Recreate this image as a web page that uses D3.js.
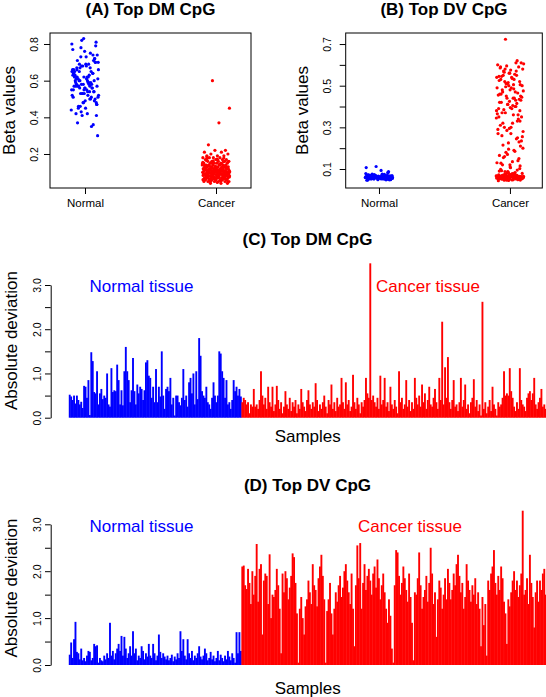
<!DOCTYPE html>
<html><head><meta charset="utf-8">
<script src="https://cdn.jsdelivr.net/npm/d3@7"></script>
<style>
body{margin:0;background:#fff}
svg text{font-family:"Liberation Sans",Arial,Helvetica,sans-serif}
</style>
</head><body>
<svg id="chart" width="546" height="697"></svg>
<script>
// ---------- DATA ----------
const groups = ["Normal", "Cancer"];

// (A) Top DM CpG – beta values
const dmNormalBeta = [
0.58,0.66,0.52,0.71,0.49,0.62,0.55,0.75,0.60,0.47,0.68,0.57,0.64,0.53,0.80,0.59,0.45,0.70,0.56,0.63,
0.51,0.73,0.61,0.42,0.67,0.54,0.58,0.77,0.50,0.65,0.48,0.69,0.60,0.56,0.82,0.44,0.62,0.57,0.72,0.53,
0.66,0.59,0.46,0.74,0.55,0.61,0.36,0.68,0.52,0.63,0.57,0.79,0.49,0.65,0.58,0.43,0.70,0.54,0.62,0.60,
0.83,0.51,0.67,0.56,0.47,0.73,0.59,0.64,0.41,0.55,0.69,0.61,0.50,0.76,0.57,0.65,0.53,0.30,0.62,0.58,
0.71,0.48,0.66,0.54,0.60,0.81,0.45,0.63,0.56,0.68,0.52,0.59,0.37,0.72,0.55,0.64,0.50,0.67,0.57,0.61,
0.42,0.74,0.53,0.65,0.58,0.46,0.70,0.56,0.62,0.35,0.78,0.51,0.60,0.66,0.54,0.48,0.63,0.57,0.69,0.41];
const dmCancerBeta = [
0.60,0.45,0.37,0.25,0.22,0.22,0.21,0.21,0.20,0.20,0.19,0.19,0.19,0.18,0.18,0.18,0.18,0.17,0.17,0.17,
0.17,0.16,0.16,0.16,0.16,0.16,0.15,0.15,0.15,0.15,0.15,0.15,0.14,0.14,0.14,0.14,0.14,0.14,0.14,0.13,
0.13,0.13,0.13,0.13,0.13,0.13,0.13,0.12,0.12,0.12,0.12,0.12,0.12,0.12,0.12,0.11,0.11,0.11,0.11,0.11,
0.11,0.11,0.11,0.11,0.10,0.10,0.10,0.10,0.10,0.10,0.10,0.10,0.10,0.10,0.09,0.09,0.09,0.09,0.09,0.09,
0.09,0.09,0.09,0.09,0.08,0.08,0.08,0.08,0.08,0.08,0.08,0.08,0.08,0.08,0.07,0.07,0.07,0.07,0.07,0.07,
0.07,0.07,0.07,0.06,0.06,0.06,0.06,0.06,0.06,0.06,0.06,0.05,0.05,0.05,0.05,0.05,0.05,0.04,0.04,0.04,
0.172,0.165,0.158,0.151,0.147,0.143,0.139,0.136,0.132,0.128,0.125,0.122,0.118,0.115,0.112,0.108,0.105,0.102,0.098,0.095,
0.092,0.088,0.085,0.082,0.078,0.075,0.072,0.068,0.065,0.062,0.058,0.055,0.052,0.048,0.045,0.185,0.178,0.162,0.154,0.141,
0.134,0.127,0.119,0.113,0.106,0.099,0.093,0.087,0.081,0.074,0.067,0.061,0.056,0.051,0.063,0.071,0.079,0.086,0.094,0.103,
0.111,0.117,0.124,0.131,0.138,0.145,0.152,0.159,0.168,0.176,0.069,0.077,0.083,0.091,0.097,0.104,0.109,0.116,0.121,0.129];

// (B) Top DV CpG – beta values
const dvNormalBeta = [
0.062,0.055,0.071,0.058,0.066,0.049,0.060,0.074,0.053,0.064,0.057,0.069,0.051,0.061,0.078,0.056,0.065,0.048,0.059,0.072,
0.054,0.063,0.067,0.052,0.058,0.081,0.060,0.046,0.070,0.055,0.062,0.057,0.068,0.050,0.064,0.059,0.076,0.053,0.061,0.066,
0.047,0.058,0.073,0.056,0.063,0.052,0.069,0.060,0.107,0.054,0.065,0.057,0.061,0.071,0.050,0.059,0.067,0.055,0.062,0.084,
0.053,0.064,0.058,0.070,0.049,0.060,0.066,0.056,0.112,0.062,0.054,0.075,0.059,0.063,0.051,0.068,0.057,0.061,0.093,0.055,
0.065,0.058,0.072,0.052,0.060,0.067,0.056,0.063,0.048,0.070,0.059,0.064,0.054,0.088,0.061,0.057,0.066,0.053,0.062,0.058];
const dvCancerBeta = [
0.052,0.061,0.048,0.070,0.057,0.065,0.044,0.059,0.075,0.053,0.068,0.062,0.049,0.081,0.056,0.064,0.071,0.047,0.058,0.090,
0.054,0.066,0.060,0.078,0.051,0.063,0.085,0.057,0.069,0.046,0.061,0.073,0.055,0.095,0.059,0.067,0.050,0.064,0.102,0.058,
0.072,0.053,0.062,0.079,0.048,0.066,0.056,0.087,0.060,0.070,0.054,0.063,0.110,0.057,0.068,0.051,0.061,0.076,0.059,0.065,
0.045,0.058,0.083,0.062,0.055,0.071,0.098,0.060,0.049,0.066,0.057,0.064,0.115,0.053,0.069,0.061,0.074,0.056,0.063,0.092,
0.050,0.067,0.059,0.080,0.054,0.062,0.106,0.058,0.070,0.047,0.065,0.060,0.120,0.056,0.077,0.052,0.063,0.088,0.061,0.068,
0.128,0.14,0.17,0.13,0.19,0.155,0.21,0.12,0.165,0.245,0.18,0.2,0.135,0.26,0.15,0.225,0.29,0.185,0.3,0.235,
0.27,0.31,0.33,0.285,0.345,0.36,0.32,0.38,0.295,0.35,0.40,0.37,0.255,0.39,0.42,0.34,0.41,0.365,0.44,0.385,
0.43,0.395,0.46,0.415,0.45,0.475,0.405,0.48,0.435,0.50,0.455,0.47,0.52,0.445,0.49,0.53,0.465,0.51,0.54,0.485,
0.55,0.505,0.56,0.525,0.57,0.495,0.58,0.535,0.545,0.59,0.515,0.60,0.555,0.565,0.61,0.575,0.585,0.62,0.595,0.605,
0.44,0.47,0.52,0.56,0.39,0.43,0.58,0.50,0.54,0.46,0.36,0.41,0.49,0.53,0.57,0.45,0.48,0.42,0.55,0.51,
0.28,0.32,0.37,0.23,0.195,0.27,0.40,0.16,0.35,0.30,0.59,0.25,0.44,0.38,0.505,0.215,0.33,0.425,0.545,0.61,
0.723];

// (C) Top DM CpG – absolute deviation per sample
const dmNormalDev = [
0.52,0.48,0.40,0.50,0.32,0.50,0.40,0.30,0.36,0.22,
0.72,0.70,0.45,0.85,0.06,1.48,1.28,0.58,0.55,1.05,
0.30,0.55,0.65,0.42,0.50,0.45,1.00,0.30,0.25,1.12,
0.58,0.62,0.60,1.20,0.85,0.30,0.62,0.28,1.05,1.60,
1.05,0.85,0.35,0.62,1.35,0.60,0.30,0.75,0.55,0.70,
0.65,0.40,0.62,1.25,1.30,0.95,0.90,0.45,0.70,0.35,
1.10,0.35,0.70,0.48,1.50,0.50,0.20,0.65,0.70,0.60,
0.90,0.30,0.45,0.05,0.50,0.50,0.35,0.28,0.45,1.10,
0.40,0.50,0.25,0.80,0.90,0.55,1.00,0.30,1.05,0.42,
1.80,1.40,0.60,0.50,0.45,0.70,0.35,0.30,0.20,0.45,
0.80,0.50,0.35,0.50,1.50,1.45,1.05,0.90,0.45,0.85,
0.30,0.35,0.20,0.40,0.85,0.60,0.70,0.50,0.65,0.48];
const dmCancerDev = [
0.35,0.45,0.40,0.30,0.35,0.10,0.30,0.25,0.65,0.25,
0.30,0.20,0.40,1.05,0.50,0.30,0.45,0.20,0.70,0.35,
0.25,0.70,0.15,0.30,0.72,0.40,0.20,0.35,0.10,0.25,
0.60,0.30,0.20,0.45,0.15,0.35,0.25,0.40,0.10,0.30,
0.20,0.65,0.35,0.25,0.15,0.40,0.62,0.30,0.20,0.35,
0.25,0.78,0.40,0.15,0.30,0.20,0.35,0.50,0.25,0.10,
0.40,0.30,0.75,0.20,0.35,0.15,0.45,0.25,0.30,0.90,
0.35,0.20,0.80,0.30,0.40,0.15,0.25,0.97,0.35,0.20,
0.45,0.30,0.10,0.35,0.25,0.40,0.90,0.55,0.45,3.49,
0.40,0.50,0.35,0.25,0.45,0.20,0.95,0.30,0.40,0.90,
0.25,0.35,0.15,0.70,0.30,0.20,0.40,0.25,0.10,1.05,
0.35,0.45,0.20,0.30,0.85,0.25,0.40,0.15,0.35,0.20,
0.90,0.45,0.30,0.50,0.25,0.75,0.35,0.55,0.20,0.40,
0.70,0.30,0.25,0.45,0.65,0.35,0.20,0.90,0.40,2.17,
0.30,1.14,0.45,1.37,0.35,0.20,0.40,0.85,0.25,0.30,
0.15,0.35,0.90,0.25,0.40,0.75,0.20,0.30,0.10,0.35,
0.45,0.87,0.25,0.40,0.15,0.30,0.05,2.62,0.20,0.35,
0.10,0.25,0.40,0.15,0.70,0.30,0.20,0.05,0.35,0.25,
0.30,0.45,1.05,0.50,0.55,0.50,1.12,0.60,0.45,0.25,
0.15,0.35,0.20,1.12,0.40,0.30,0.25,0.15,0.45,0.55,
0.60,0.40,0.55,0.90,0.30,0.20,0.35,0.45,0.65,0.25,
0.30,0.20];

// (D) Top DV CpG – absolute deviation per sample
const dvNormalDev = [
0.22,0.48,0.15,0.55,0.92,0.28,0.25,0.12,0.35,0.10,
0.15,0.08,0.20,0.30,0.28,0.10,0.15,0.45,0.40,0.42,
0.05,0.15,0.10,0.08,0.20,0.12,0.25,0.15,0.90,0.20,
0.30,0.12,0.25,0.35,0.45,0.30,0.62,0.20,0.60,0.35,
0.15,0.25,0.40,0.20,0.72,0.25,0.35,0.10,0.20,0.15,
0.40,0.30,0.12,0.25,0.18,0.45,0.20,0.15,0.45,0.25,
0.10,0.20,0.65,0.28,0.15,0.25,0.18,0.12,0.20,0.10,
0.15,0.22,0.08,0.18,0.12,0.25,0.15,0.72,0.30,0.55,
0.20,0.12,0.55,0.25,0.15,0.30,0.10,0.20,0.15,0.25,
0.40,0.18,0.12,0.20,0.35,0.25,0.10,0.15,0.28,0.12,
0.20,0.08,0.15,0.30,0.10,0.22,0.15,0.08,0.20,0.12,
0.30,0.18,0.10,0.25,0.15,0.05,0.70,0.25,0.70,0.30];
const dvCancerDev = [
2.10,2.12,1.70,1.62,2.05,1.75,1.30,2.00,1.50,1.90,
2.58,1.35,2.05,2.15,0.65,1.80,1.95,1.90,1.30,2.36,
1.00,1.50,1.45,1.60,2.05,1.70,1.20,0.25,1.95,1.55,
2.00,1.85,1.40,1.65,1.90,2.38,2.30,1.75,1.10,0.05,
1.20,1.45,1.00,0.65,1.25,1.40,1.80,1.55,1.30,2.15,
1.70,1.60,1.25,1.85,2.10,2.35,1.90,1.40,0.05,1.15,
1.40,1.75,1.10,0.65,1.20,1.55,1.35,1.70,1.90,1.45,
1.65,2.00,2.15,1.80,1.55,1.30,1.95,1.20,0.40,1.70,
2.55,1.85,2.60,1.20,1.75,2.15,1.60,1.90,2.05,1.80,
1.50,1.95,2.10,1.65,2.25,1.85,1.40,1.70,1.95,1.55,
1.20,0.90,1.40,1.05,0.35,0.05,1.70,2.45,2.40,1.90,
1.50,1.75,2.10,1.85,1.60,1.35,1.95,1.45,0.90,0.10,
1.55,1.50,1.85,2.40,1.70,1.20,1.45,1.60,1.90,1.35,
1.75,2.50,1.95,1.30,1.55,0.60,1.40,1.80,1.65,1.20,
1.50,1.85,1.40,2.05,1.75,1.40,1.60,1.95,1.70,2.15,
2.35,1.90,1.55,1.75,1.20,1.45,2.15,1.80,1.60,1.35,
1.70,1.50,1.85,1.30,1.55,1.20,0.40,1.45,0.85,1.30,
0.20,1.80,1.60,1.95,2.10,2.45,1.75,1.50,1.90,1.60,
2.10,1.85,1.35,1.10,0.45,1.40,1.25,1.55,1.80,2.00,
1.60,1.80,1.45,1.70,1.95,3.29,1.50,1.60,1.85,1.30,
2.35,1.75,1.45,0.80,1.55,1.80,1.35,1.80,1.60,1.95,
2.05,1.50];

const ticksA = [0.2, 0.4, 0.6, 0.8];
const labelsA = [0.2, 0.4, 0.6, 0.8];
const ticksB = [0.1, 0.2, 0.3, 0.4, 0.5, 0.6, 0.7];
const labelsB = [0.1, 0.3, 0.5, 0.7];
const ticksDev = [0, 0.5, 1, 1.5, 2, 2.5, 3];
const labelsDev = [0, 1, 2, 3];

// ---------- DRAWING ----------
const svg = d3.select("#chart");
const FONT = '"Liberation Sans",Arial,Helvetica,sans-serif';
const BLUE = "#0000FF", RED = "#FF0000";

// deterministic horizontal jitter (layout only)
const jitter = i => (((i * 0.6180339887 + 0.37) % 1) - 0.5) * 2 * 0.105;

function styleYAxis(ax, off) {
  ax.attr("font-family", FONT);
  ax.selectAll(".tick line").attr("stroke", "#000");
  ax.selectAll(".tick text")
    .attr("x", 0).attr("y", -off).attr("dy", 0)
    .attr("transform", "rotate(-90)")
    .attr("text-anchor", "middle")
    .attr("fill", "#000")
    .style("font-size", "10.5px");
}

function stripPanel(c) {
  const g = svg.append("g");
  const x = d3.scaleLinear().domain(c.xdom).range([c.left, c.right]);
  const y = d3.scaleLinear().domain(c.ydom).range([c.bottom, c.top]);
  [[c.normal, 1, BLUE], [c.cancer, 2, RED]].forEach(([vals, pos, col]) => {
    g.append("g").selectAll("circle").data(vals).join("circle")
      .attr("cx", (d, i) => x(pos + jitter(i)))
      .attr("cy", d => y(d))
      .attr("r", 1.6)
      .attr("fill", col);
  });
  g.append("rect")
    .attr("x", c.left).attr("y", c.top)
    .attr("width", c.right - c.left).attr("height", c.bottom - c.top)
    .attr("fill", "none").attr("stroke", "#000").attr("stroke-width", 1);
  const ya = g.append("g").attr("transform", `translate(${c.left},0)`)
    .call(d3.axisLeft(y).tickValues(c.yticks).tickSize(6)
      .tickFormat(d => c.ylabels.indexOf(d) >= 0 ? d3.format(".1f")(d) : ""));
  ya.select(".domain").remove();
  styleYAxis(ya, c.tickLabOff);
  const xa = g.append("g").attr("transform", `translate(0,${c.bottom})`)
    .call(d3.axisBottom(x).tickValues([1, 2]).tickSize(6).tickFormat((d, i) => groups[i]));
  xa.select(".domain").remove();
  xa.attr("font-family", FONT);
  xa.selectAll(".tick line").attr("stroke", "#000");
  xa.selectAll(".tick text").attr("y", 18.7).attr("dy", 0).attr("fill", "#000").style("font-size", "11.5px");
  g.append("text").attr("x", (c.left + c.right) / 2).attr("y", 15)
    .attr("text-anchor", "middle").attr("font-weight", "bold").attr("font-size", 17).text(c.title);
  g.append("text").attr("transform", `translate(${c.ylabX},${(c.top + c.bottom) / 2}) rotate(-90)`)
    .attr("text-anchor", "middle").attr("font-size", 17).text("Beta values");
}

stripPanel({
  left: 50, right: 251, top: 33, bottom: 188,
  xdom: [0.733, 2.267], ydom: [0.0145, 0.86],
  yticks: ticksA, ylabels: labelsA, tickLabOff: 12.5, ylabX: 15,
  normal: dmNormalBeta, cancer: dmCancerBeta, title: "(A) Top DM CpG"
});
stripPanel({
  left: 345.7, right: 542.3, top: 33, bottom: 188,
  xdom: [0.746, 2.247], ydom: [0.0088, 0.753],
  yticks: ticksB, ylabels: labelsB, tickLabOff: 15, ylabX: 308,
  normal: dvNormalBeta, cancer: dvCancerBeta, title: "(B) Top DV CpG"
});

function barPanel(c) {
  const g = svg.append("g");
  const n = c.normal.length, m = c.cancer.length;
  const rows = c.normal.map((v, i) => ({ i, v, col: BLUE }))
    .concat(c.cancer.map((v, j) => ({ i: n + j, v, col: RED })));
  const x = d3.scaleLinear().domain([0, n + m - 1]).range([69.5, 545.5]);
  const y = d3.scaleLinear().domain([0, 3]).range([c.zero, c.three]);
  const step = x(1) - x(0);
  g.append("g").selectAll("rect").data(rows).join("rect")
    .attr("x", d => x(d.i) - step / 2)
    .attr("width", step + 0.45)
    .attr("y", d => y(d.v))
    .attr("height", d => Math.max(0.8, y(0) - y(d.v)))
    .attr("fill", d => d.col);
  const ya = g.append("g").attr("transform", "translate(50.7,0)")
    .call(d3.axisLeft(y).tickValues(ticksDev).tickSize(5.7).tickSizeOuter(0)
      .tickFormat(d => labelsDev.indexOf(d) >= 0 ? d3.format(".1f")(d) : ""));
  ya.select(".domain").attr("stroke", "#000");
  styleYAxis(ya, 10);
  g.append("text").attr("x", 307.5).attr("y", c.titleY)
    .attr("text-anchor", "middle").attr("font-weight", "bold").attr("font-size", 17).text(c.title);
  g.append("text").attr("transform", `translate(16.7,${c.labMid}) rotate(-90)`)
    .attr("text-anchor", "middle").attr("font-size", 17).text("Absolute deviation");
  g.append("text").attr("x", 141.5).attr("y", c.tissueY).attr("text-anchor", "middle")
    .attr("font-size", 17).attr("fill", BLUE).text("Normal tissue");
  g.append("text").attr("x", c.cancerX).attr("y", c.tissueY).attr("text-anchor", "middle")
    .attr("font-size", 17).attr("fill", RED).text("Cancer tissue");
  g.append("text").attr("x", 307.7).attr("y", c.samplesY).attr("text-anchor", "middle")
    .attr("font-size", 17).text("Samples");
}

barPanel({
  normal: dmNormalDev, cancer: dmCancerDev, zero: 417.7, three: 285,
  title: "(C) Top DM CpG", titleY: 245, labMid: 340.5, tissueY: 291.5,
  cancerX: 428, samplesY: 442
});
barPanel({
  normal: dvNormalDev, cancer: dvCancerDev, zero: 665, three: 524.3,
  title: "(D) Top DV CpG", titleY: 491, labMid: 588, tissueY: 531.5,
  cancerX: 410, samplesY: 694
});
</script>
</body></html>
